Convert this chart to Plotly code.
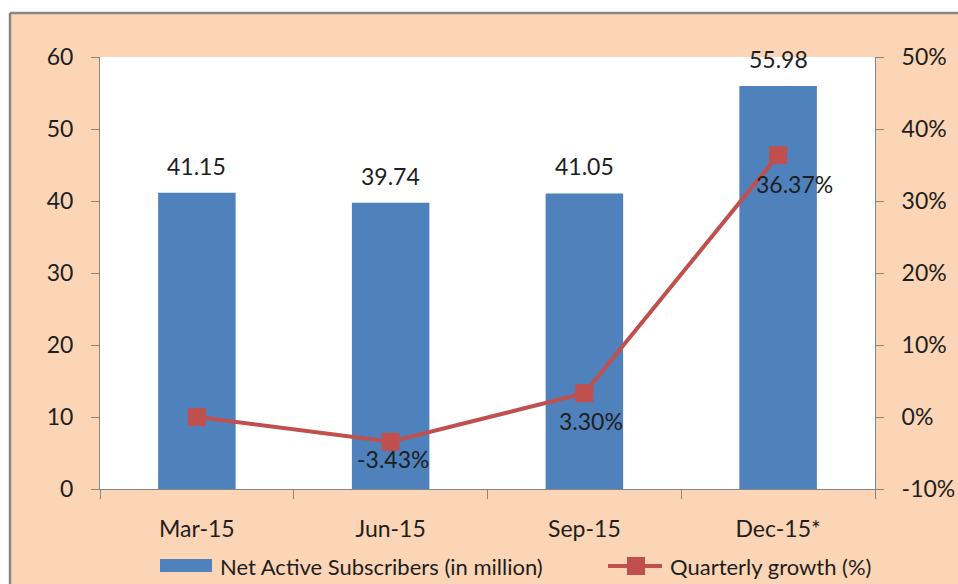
import plotly.graph_objects as go

# Quarterly subscriber data
quarters = ["Mar-15", "Jun-15", "Sep-15", "Dec-15*"]
subscribers = [41.15, 39.74, 41.05, 55.98]          # net active subscribers, million
growth = [0.0, -3.43, 3.30, 36.37]                  # quarter-on-quarter growth, %
growth_labels = ["", "-3.43%", "3.30%", "36.37%"]
left_ticks = [0, 10, 20, 30, 40, 50, 60]
right_ticks = [-10, 0, 10, 20, 30, 40, 50]
right_ticktext = [f"{v}%" for v in right_ticks]
series_names = ["Net Active Subscribers (in million)", "Quarterly growth (%)"]

BAR = "#4F81BD"
LINE = "#C0504D"
PEACH = "#FBD5B5"
GRID = "#868686"
TXT = "#1E1E1E"
FONT = "Lato"

# plot area in pixels (used to place the outer frame and the key)
L, R, T, B = 100, 875, 57, 489
W, H = 958, 584


def px_x(p):
    return (p - L) / (R - L)


def px_y(p):
    return (B - p) / (B - T)


fig = go.Figure()
fig.add_trace(go.Bar(
    x=quarters, y=subscribers, name=series_names[0],
    marker=dict(color=BAR, line=dict(width=0)), yaxis="y",
))
fig.add_trace(go.Scatter(
    x=quarters, y=growth, name=series_names[1], yaxis="y2",
    mode="lines+markers",
    line=dict(color=LINE, width=4),
    marker=dict(symbol="square", size=18, color=LINE),
))

annotations = []
# value labels above bars
for q, v in zip(quarters, subscribers):
    annotations.append(dict(
        x=q, y=v, xref="x", yref="y", text=f"{v:.2f}", showarrow=False,
        yanchor="bottom", yshift=11, font=dict(size=23, color=TXT, family=FONT),
    ))
# growth labels below the markers
label_shift = [(0, 0), (2, -17), (7, -28), (16, -29)]
for q, g, t, (dx, dy) in zip(quarters, growth, growth_labels, label_shift):
    if not t:
        continue
    annotations.append(dict(
        x=q, y=g, xref="x", yref="y2", text=t, showarrow=False,
        xshift=dx, yshift=dy, font=dict(size=23, color=TXT, family=FONT),
    ))

# key below the axis
KEY_Y = 566
annotations += [
    dict(x=px_x(218), y=px_y(KEY_Y), xref="paper", yref="paper",
         xanchor="left", yanchor="middle", showarrow=False,
         text=series_names[0], font=dict(size=22, color=TXT, family=FONT)),
    dict(x=px_x(668), y=px_y(KEY_Y), xref="paper", yref="paper",
         xanchor="left", yanchor="middle", showarrow=False,
         text=series_names[1], font=dict(size=22, color=TXT, family=FONT)),
]

shapes = [
    # white strip above and to the left of the chart frame
    dict(type="rect", xref="paper", yref="paper", layer="below",
         x0=px_x(0), x1=px_x(W), y0=px_y(13), y1=px_y(0),
         fillcolor="white", line=dict(width=0)),
    dict(type="rect", xref="paper", yref="paper", layer="below",
         x0=px_x(0), x1=px_x(10), y0=px_y(H), y1=px_y(0),
         fillcolor="white", line=dict(width=0)),
    # frame edges
    dict(type="line", xref="paper", yref="paper",
         x0=px_x(10), x1=px_x(W), y0=px_y(13), y1=px_y(13),
         line=dict(color=GRID, width=2.5)),
    dict(type="line", xref="paper", yref="paper",
         x0=px_x(10), x1=px_x(10), y0=px_y(13), y1=px_y(H),
         line=dict(color=GRID, width=2.5)),
    # key symbols
    dict(type="rect", xref="paper", yref="paper",
         x0=px_x(160), x1=px_x(212), y0=px_y(572), y1=px_y(559),
         fillcolor=BAR, line=dict(width=0)),
    dict(type="line", xref="paper", yref="paper",
         x0=px_x(608), x1=px_x(662), y0=px_y(KEY_Y), y1=px_y(KEY_Y),
         line=dict(color=LINE, width=4)),
    dict(type="rect", xref="paper", yref="paper",
         x0=px_x(627), x1=px_x(645), y0=px_y(KEY_Y + 9), y1=px_y(KEY_Y - 9),
         fillcolor=LINE, line=dict(width=0)),
]

axis_font = dict(size=23, color=TXT, family=FONT)

fig.update_layout(
    width=W, height=H,
    margin=dict(l=L, r=W - R, t=T, b=H - B, autoexpand=False),
    paper_bgcolor=PEACH, plot_bgcolor="white",
    bargap=0.6,
    showlegend=False,
    xaxis=dict(
        type="category", showline=True, linecolor=GRID, linewidth=1,
        ticks="outside", ticklen=9, tickcolor=GRID, tickson="boundaries",
        showgrid=False, tickfont=axis_font, ticklabelstandoff=19,
    ),
    yaxis=dict(
        range=[0, 60], tickvals=left_ticks, showline=True, linecolor=GRID,
        linewidth=1, ticks="outside", ticklen=8, tickcolor=GRID,
        showgrid=False, zeroline=False, tickfont=axis_font,
        ticklabelstandoff=13,
    ),
    yaxis2=dict(
        range=[-10, 50], tickvals=right_ticks, ticktext=right_ticktext,
        overlaying="y", side="right", showline=True, linecolor=GRID,
        linewidth=1, ticks="outside", ticklen=8, tickcolor=GRID,
        showgrid=False, zeroline=False, tickfont=axis_font,
        ticklabelstandoff=13,
    ),
    annotations=annotations,
    shapes=shapes,
)

fig.write_html("out.html")
